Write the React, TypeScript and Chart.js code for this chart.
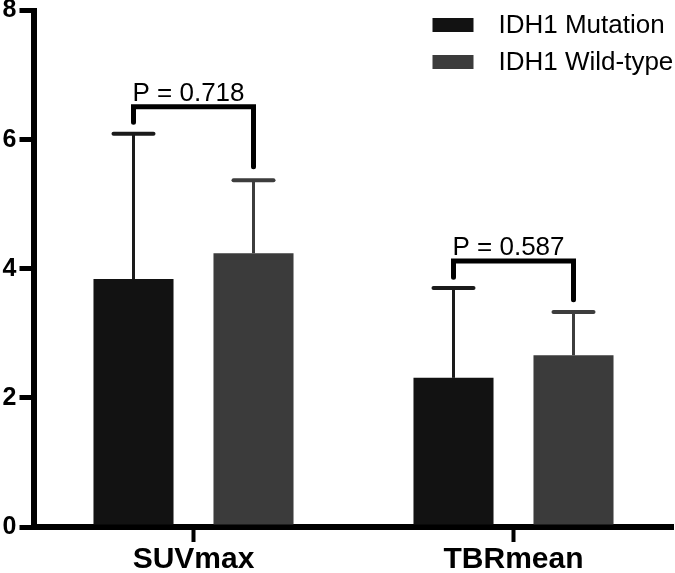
import React, { useEffect, useRef } from 'react';
import { Chart, registerables } from 'chart.js';

Chart.register(...registerables);

const categories = ['SUVmax', 'TBRmean'];
const seriesLabels = ['IDH1 Mutation', 'IDH1 Wild-type'];
const mutationMean = [3.84, 2.31];
const mutationSD = [2.25, 1.39];
const wildMean = [4.24, 2.66];
const wildSD = [1.13, 0.67];
const bracketTop = [6.51, 4.12];
const bracketLeftEnd = [6.27, 3.87];
const bracketRightEnd = [5.58, 3.52];
const pLabels = ['P = 0.718', 'P = 0.587'];
const yTickValues = [0, 2, 4, 6, 8];

const FONT = '"Liberation Sans", Arial, Helvetica, sans-serif';
const barColors = ['#121212', '#3b3b3b'];
const errColors = ['#1a1a1a', '#3d3d3d'];

const overlayPlugin = {
  id: 'overlay',
  afterDatasetsDraw(chart: any) {
    const ctx = chart.ctx;
    const y = chart.scales.y;
    const sds = [mutationSD, wildSD];
    ctx.save();
    // error bars
    chart.data.datasets.forEach((ds: any, i: number) => {
      const meta = chart.getDatasetMeta(i);
      meta.data.forEach((el: any, j: number) => {
        const top = y.getPixelForValue(ds.data[j] + sds[i][j]);
        ctx.strokeStyle = errColors[i];
        ctx.lineCap = 'butt';
        ctx.lineWidth = 3;
        ctx.beginPath();
        ctx.moveTo(el.x, el.y);
        ctx.lineTo(el.x, top);
        ctx.stroke();
        ctx.lineCap = 'round';
        ctx.lineWidth = 4;
        ctx.beginPath();
        ctx.moveTo(el.x - 20, top);
        ctx.lineTo(el.x + 20, top);
        ctx.stroke();
      });
    });
    // brackets
    const m0 = chart.getDatasetMeta(0);
    const m1 = chart.getDatasetMeta(1);
    categories.forEach((_c, j) => {
      const xL = m0.data[j].x;
      const xR = m1.data[j].x;
      const yT = y.getPixelForValue(bracketTop[j]);
      ctx.strokeStyle = '#000';
      ctx.lineWidth = 5;
      ctx.lineCap = 'round';
      ctx.lineJoin = 'miter';
      ctx.beginPath();
      ctx.moveTo(xL, y.getPixelForValue(bracketLeftEnd[j]));
      ctx.lineTo(xL, yT);
      ctx.lineTo(xR, yT);
      ctx.lineTo(xR, y.getPixelForValue(bracketRightEnd[j]));
      ctx.stroke();
      ctx.fillStyle = '#000';
      ctx.font = `26px ${FONT}`;
      ctx.textAlign = 'left';
      ctx.textBaseline = 'alphabetic';
      ctx.fillText(pLabels[j], xL - 1, yT - 6);
    });
    // legend
    const ca = chart.chartArea;
    const boxX = ca.right - 241;
    chart.data.datasets.forEach((ds: any, i: number) => {
      const cy = 25 + i * 37;
      ctx.fillStyle = ds.backgroundColor;
      ctx.fillRect(boxX, cy - 7, 41, 14);
      ctx.fillStyle = '#000';
      ctx.font = `26px ${FONT}`;
      ctx.textAlign = 'left';
      ctx.textBaseline = 'middle';
      ctx.fillText(ds.label, boxX + 66, cy + 1);
    });
    ctx.restore();
  },
};

export default function App() {
  const ref = useRef<HTMLCanvasElement>(null);
  useEffect(() => {
    const canvas = ref.current;
    if (!canvas) return;
    const chart = new Chart(canvas, {
      type: 'bar',
      data: {
        labels: categories,
        datasets: [
          {
            label: seriesLabels[0],
            data: mutationMean,
            backgroundColor: barColors[0],
            barPercentage: 0.667,
            categoryPercentage: 0.75,
          },
          {
            label: seriesLabels[1],
            data: wildMean,
            backgroundColor: barColors[1],
            barPercentage: 0.667,
            categoryPercentage: 0.75,
          },
        ],
      },
      options: {
        responsive: false,
        animation: false,
        devicePixelRatio: 1,
        layout: { padding: { top: 10.5, right: 1.5, left: 0, bottom: 0 } },
        plugins: { legend: { display: false }, tooltip: { enabled: false } },
        scales: {
          x: {
            offset: true,
            grid: {
              display: true,
              drawOnChartArea: false,
              drawTicks: true,
              tickLength: 15,
              tickWidth: 4,
              tickColor: '#000',
              offset: false,
            },
            border: { display: true, width: 6, color: '#000' },
            ticks: { color: '#000', padding: 0, font: { family: FONT, size: 30, weight: 'bold' } },
            afterFit: (s: any) => {
              s.height = 46;
              s.paddingLeft = 0;
              s.paddingRight = 0;
            },
          },
          y: {
            min: 0,
            max: 8,
            afterBuildTicks: (s: any) => {
              s.ticks = yTickValues.map((v) => ({ value: v }));
            },
            grid: {
              display: true,
              drawOnChartArea: false,
              drawTicks: true,
              tickLength: 14,
              tickWidth: 5,
              lineWidth: 5,
              tickColor: '#000',
            },
            border: { display: true, width: 6, color: '#000' },
            ticks: { color: '#000', padding: 3, font: { family: FONT, size: 25, weight: 'bold' } },
            afterFit: (s: any) => {
              s.width = 33.5;
              s.paddingTop = 0;
              s.paddingBottom = 0;
            },
          },
        },
      },
      plugins: [overlayPlugin],
    } as any);
    return () => chart.destroy();
  }, []);
  return (
    <div style={{ position: 'fixed', left: 0, top: 0, width: 675, height: 573, background: '#fff' }}>
      <canvas ref={ref} width={675} height={573} style={{ display: 'block' }} />
    </div>
  );
}
